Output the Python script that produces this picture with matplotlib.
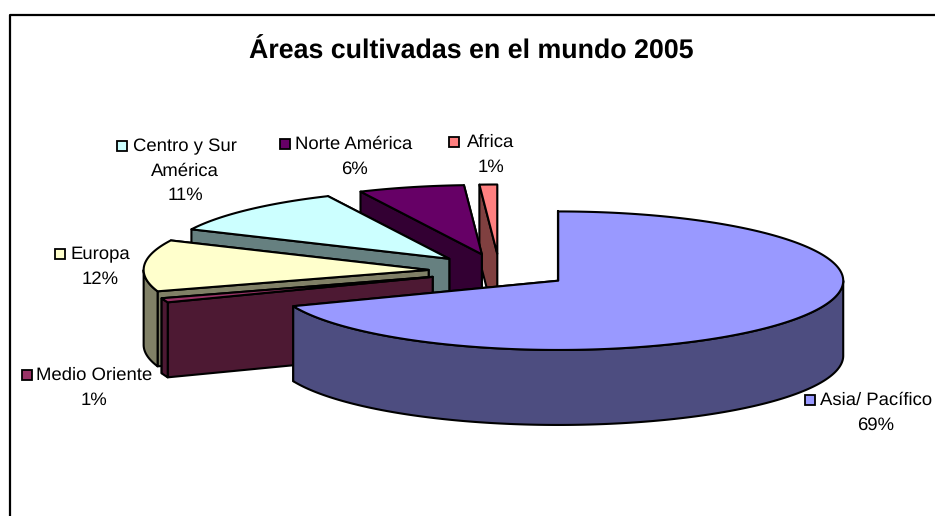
import numpy as np
from matplotlib import pyplot as plt
from matplotlib.patches import Polygon, Rectangle

plt.rcParams['font.family'] = ['Liberation Sans', 'DejaVu Sans']
plt.rcParams['text.hinting'] = 'none'

# data, clockwise from 12 o'clock
categories = ["Asia/ Pacífico", "Medio Oriente", "Europa", "Centro y Sur\nAmérica", "Norte América", "Africa"]
values = [69, 1, 12, 11, 6, 1]
top_colors = ["#9999FF", "#993366", "#FFFFCC", "#CCFFFF", "#660066", "#FF8080"]
side_colors = ["#4D4D80", "#4D1933", "#808066", "#668080", "#330033", "#804040"]

# label position (centre x, first line y), legend key left x
label_pos = [(876, 400), (94, 375), (100, 254), (185, 146), (354, 144), (491, 142)]
key_x = [805, 22, 55, 117, 280, 449]
title = "Áreas cultivadas en el mundo 2005"

# pie geometry in pixels
cx, cy = 499.5, 271
rx = 285
k = 0.243
depth = 75
explode = 71

fig = plt.figure(figsize=(9.35, 5.16), dpi=100)
ax = fig.add_axes([0, 0, 1, 1])
ax.set_xlim(0, 935)
ax.set_ylim(516, 0)
ax.axis('off')

# chart border, only left and top show in the crop
ax.plot([9.5, 9.5, 935], [516, 14.5, 14.5], color='black', lw=1.6, solid_capstyle='butt')


def pt(tip, deg, r=rx):
    a = np.radians(deg)
    return tip[0] + r * np.sin(a), tip[1] - r * k * np.cos(a)


def arc(tip, a1, a2):
    n = max(int(abs(a2 - a1) * 2), 2)
    return [pt(tip, d) for d in np.linspace(a1, a2, n)]


def down(points):
    return [(x, y + depth) for x, y in points]


def add_poly(points, color, z):
    ax.add_patch(Polygon(points, closed=True, facecolor=color, edgecolor='black', lw=1.5, joinstyle='round', zorder=z))


edges = np.concatenate([[0], np.cumsum(values)]) / sum(values) * 360
# back slices first, Asia in front
order = [5, 4, 3, 2, 1, 0]
for z, i in enumerate(order):
    a1, a2 = edges[i], edges[i + 1]
    mid = np.radians((a1 + a2) / 2)
    tip = (cx + explode * np.sin(mid), cy - explode * k * np.cos(mid))
    z0 = z * 10 + 2
    for ang, dz in [(a2, 0), (a1, 1)]:
        face = [tip, pt(tip, ang)]
        add_poly(face + down(face)[::-1], side_colors[i], z0 + dz)
    lo, hi = max(a1, 90), min(a2, 270)
    if hi > lo:
        rim = arc(tip, lo, hi)
        add_poly(rim + down(rim)[::-1], side_colors[i], z0 + 2)
    add_poly([tip] + arc(tip, a1, a2), top_colors[i], z0 + 3)

ax.text(471, 51.5, title, ha='center', va='center', fontsize=19.3, fontweight='bold', color='black')

line_h = 24.5
for name, val, pos, kx, col in zip(categories, values, label_pos, key_x, top_colors):
    lines = name.split("\n")
    ax.text(pos[0], pos[1] + 0.5, lines[0], ha='center', va='center', fontsize=13.3, color='black')
    ax.add_patch(Rectangle((kx, pos[1] - 5), 10, 10, facecolor=col, edgecolor='black', lw=1.3))
    for j, extra in enumerate(lines[1:] + [f"{val}%"]):
        ax.text(pos[0], pos[1] + 0.5 + line_h * (j + 1), extra, ha='center', va='center', fontsize=13.3, color='black')

fig.savefig("out.png", dpi=100)
